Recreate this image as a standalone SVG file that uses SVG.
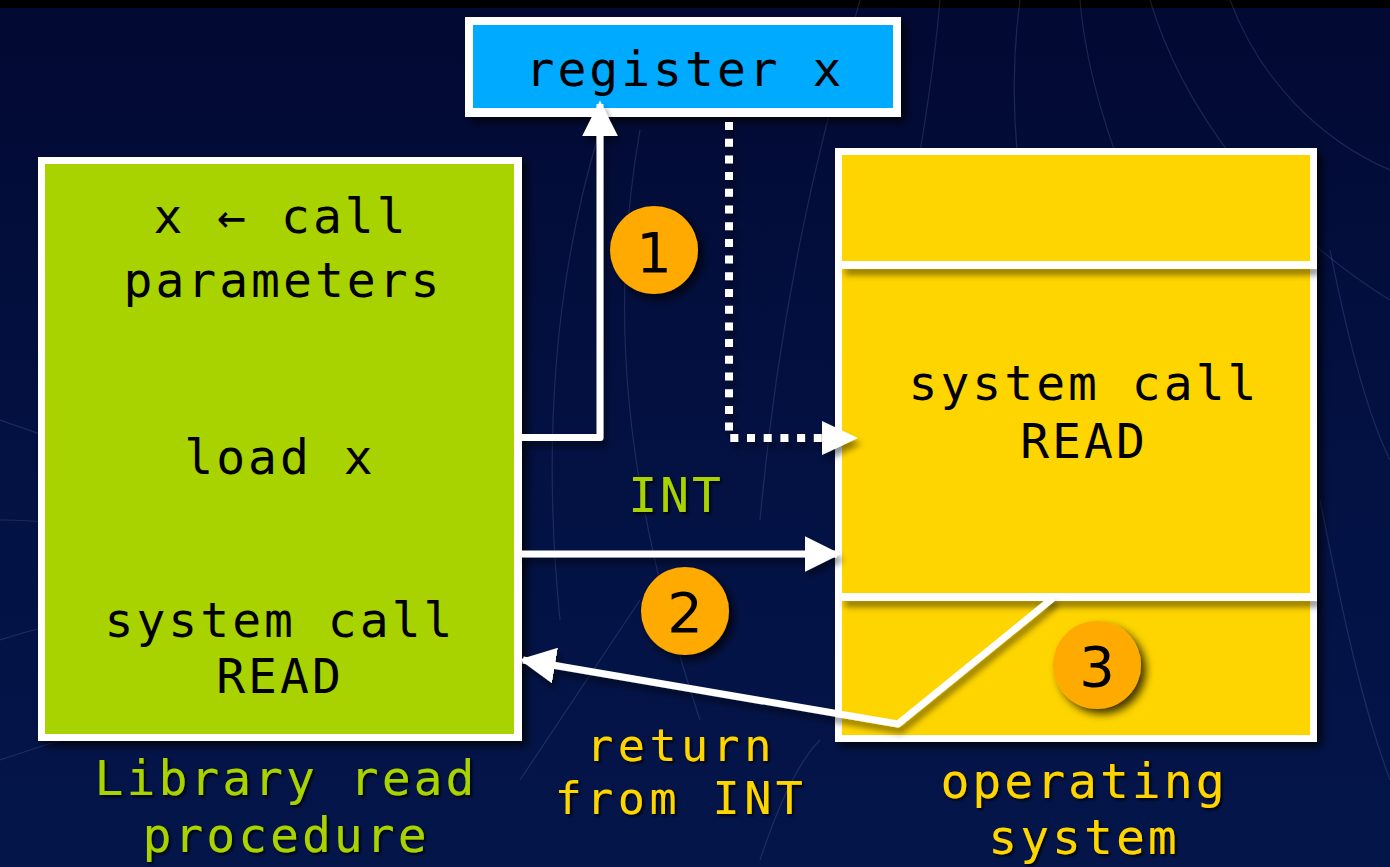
<svg xmlns="http://www.w3.org/2000/svg" width="1390" height="867" viewBox="0 0 1390 867">
  <defs>
    <linearGradient id="bgGrad" x1="0" y1="0" x2="0" y2="1">
      <stop offset="0" stop-color="#020932"/>
      <stop offset="0.5" stop-color="#031142"/>
      <stop offset="1" stop-color="#04154a"/>
    </linearGradient>
    <filter id="shadow" x="-10%" y="-10%" width="130%" height="130%">
      <feDropShadow dx="5" dy="5" stdDeviation="4" flood-color="#000000" flood-opacity="0.75"/>
    </filter>
    <filter id="lineShadow" x="-10%" y="-50%" width="130%" height="300%">
      <feDropShadow dx="3" dy="6" stdDeviation="3" flood-color="#000000" flood-opacity="0.45"/>
    </filter>
    <filter id="textShadow" x="-5%" y="-20%" width="115%" height="150%">
      <feDropShadow dx="2" dy="2" stdDeviation="1.5" flood-color="#000000" flood-opacity="0.9"/>
    </filter>
    <marker id="arrow" viewBox="0 0 10 10" refX="9" refY="5" markerUnits="userSpaceOnUse" markerWidth="36" markerHeight="36" orient="auto">
      <path d="M0,0 L10,5 L0,10 Z" fill="#ffffff"/>
    </marker>
    <style>
      .mono { font-family: "DejaVu Sans Mono", "Liberation Mono", monospace; font-size: 48px; letter-spacing: 3px; text-anchor: middle; }
      .tight { font-size: 45px; letter-spacing: 4.5px; }
      .dark { fill: #000000; }
      .green { fill: #A8D300; }
      .yellow { fill: #FFD500; }
      .frame { fill: #ffffff; }
      .conn { fill: none; stroke: #ffffff; stroke-width: 7; stroke-linejoin: round; }
      .dots { fill: none; stroke: #ffffff; stroke-width: 8; stroke-dasharray: 8 8.7; }
      .badge { fill: #FFAA00; }
      .num { font-family: "DejaVu Sans", "Liberation Sans", sans-serif; font-size: 56px; text-anchor: middle; fill: #000000; }
      .bgline { fill: none; stroke: #8fa0e0; stroke-width: 1.2; opacity: 0.18; }
    </style>
  </defs>

  <!-- background -->
  <g id="background">
    <rect x="0" y="0" width="1390" height="867" fill="url(#bgGrad)"/>
    <rect x="0" y="0" width="1390" height="8" fill="#000000"/>
    <path class="bgline" d="M1020,0 C1000,150 1030,300 1120,520"/>
    <path class="bgline" d="M1080,0 C1090,120 1150,260 1250,420"/>
    <path class="bgline" d="M1150,0 C1180,100 1260,220 1390,300"/>
    <path class="bgline" d="M1230,0 C1260,80 1320,140 1390,170"/>
    <path class="bgline" d="M940,0 C930,120 900,250 880,420"/>
    <path class="bgline" d="M860,0 C820,140 780,300 760,520"/>
    <path class="bgline" d="M600,130 C560,260 540,420 560,620"/>
    <path class="bgline" d="M640,130 C610,300 620,480 700,720"/>
    <path class="bgline" d="M0,420 C60,440 140,470 220,520"/>
    <path class="bgline" d="M0,520 C80,520 160,540 260,580"/>
    <path class="bgline" d="M0,640 C60,620 120,610 200,620"/>
    <path class="bgline" d="M0,760 C60,740 120,720 200,700"/>
    <path class="bgline" d="M520,780 C560,720 600,660 640,600"/>
    <path class="bgline" d="M760,860 C780,800 800,760 820,740"/>
    <path class="bgline" d="M1320,500 C1340,600 1360,700 1390,780"/>
    <path class="bgline" d="M1330,250 C1350,350 1370,420 1390,460"/>
  </g>

  <!-- register x -->
  <g id="node-register">
    <rect x="465" y="17" width="436" height="100" class="frame" filter="url(#shadow)"/>
    <rect x="473" y="25" width="420" height="83" fill="#00AAFF"/>
    <text class="mono dark" x="685" y="86">register x</text>
  </g>

  <!-- library read procedure -->
  <g id="node-library">
    <rect x="38" y="157" width="484" height="584" class="frame" filter="url(#shadow)"/>
    <rect x="45" y="164" width="469" height="570" fill="#A8D300"/>
    <text class="mono dark" x="281" y="233">x ← call</text>
    <text class="mono dark" x="283" y="297">parameters</text>
    <text class="mono dark" x="280" y="474">load x</text>
    <text class="mono dark" x="280" y="637">system call</text>
    <text class="mono dark" x="280" y="693">READ</text>
  </g>

  <!-- operating system -->
  <g id="node-os">
    <rect x="835" y="148" width="482" height="594" class="frame" filter="url(#shadow)"/>
    <rect x="842" y="155" width="468" height="580" fill="#FFD500"/>
    <g filter="url(#lineShadow)">
      <rect x="842" y="261" width="475" height="8" fill="#ffffff"/>
      <rect x="842" y="593" width="475" height="8" fill="#ffffff"/>
    </g>
    <text class="mono dark" x="1084" y="400">system call</text>
    <text class="mono dark" x="1084" y="458">READ</text>
  </g>

  <!-- connectors -->
  <g id="connectors" filter="url(#lineShadow)">
    <path class="conn" d="M522,437.5 L600,437.5 L600,104" marker-end="url(#arrow)"/>
    <path class="dots" d="M729,122 L729,438 L826,438"/>
    <path d="M822,421 L858,438 L822,455 Z" fill="#ffffff"/>
    <path class="conn" d="M522,554 L837,554" marker-end="url(#arrow)"/>
    <path class="conn" d="M1053,598 L898,724 L523,660" marker-end="url(#arrow)"/>
  </g>

  <!-- step badges -->
  <g id="badge-1" filter="url(#shadow)">
    <circle class="badge" cx="654" cy="250" r="44"/>
    <text class="num" x="654" y="272">1</text>
  </g>
  <g id="badge-2" filter="url(#shadow)">
    <circle class="badge" cx="685" cy="611" r="44"/>
    <text class="num" x="685" y="632">2</text>
  </g>
  <g id="badge-3" filter="url(#shadow)">
    <circle class="badge" cx="1097" cy="665" r="44"/>
    <text class="num" x="1097" y="686">3</text>
  </g>

  <!-- labels -->
  <g id="labels" filter="url(#textShadow)">
    <text class="mono green" x="676" y="512">INT</text>
    <text class="mono tight yellow" x="681" y="761">return</text>
    <text class="mono tight yellow" x="681" y="814">from INT</text>
    <text class="mono green" x="286" y="795">Library read</text>
    <text class="mono green" x="286" y="852">procedure</text>
    <text class="mono yellow" x="1084" y="798">operating</text>
    <text class="mono yellow" x="1084" y="854">system</text>
  </g>
</svg>
